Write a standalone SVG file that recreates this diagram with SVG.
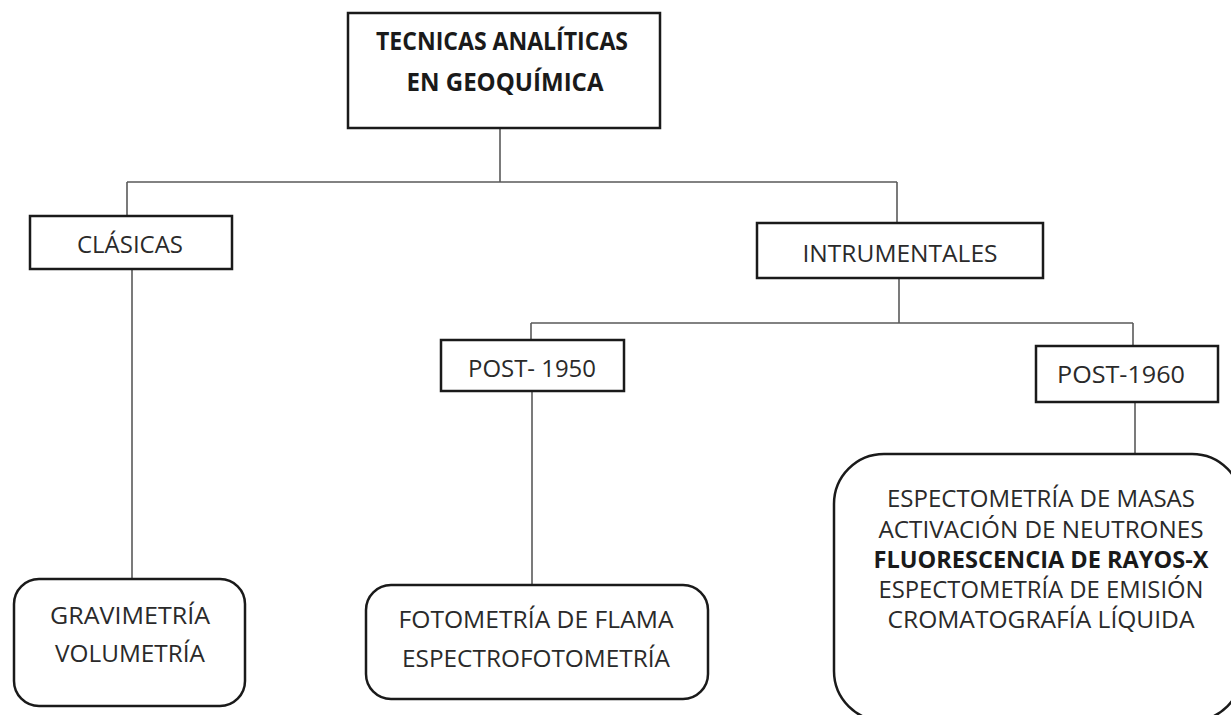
<svg xmlns="http://www.w3.org/2000/svg" width="1231" height="715" viewBox="0 0 1231 715">
<style>
.box{fill:#fff;stroke:#1a1a1a;stroke-width:2.5}
.conn{fill:none;stroke:#5a5a5a;stroke-width:1.6}
text{font-family:"Open Sans","Liberation Sans",sans-serif;font-size:23px;fill:#2a2a2a;text-anchor:middle}
.b{font-weight:bold;fill:#1a1a1a}
.t{font-size:25px}
</style>
<rect width="1231" height="715" fill="#fff"/>
<g id="connectors">
<path class="conn" d="M500,128 V182 M127,182 H897 M127,182 V216 M897,182 V223"/>
<path class="conn" d="M132,269 V579"/>
<path class="conn" d="M899,278 V323 M531,323 H1133 M531,323 V340 M1133,323 V346"/>
<path class="conn" d="M532,391 V585"/>
<path class="conn" d="M1135,402 V454"/>
</g>
<g id="n-root">
<rect class="box" x="348" y="13" width="312" height="115"/>
<text class="b t" x="502" y="50" textLength="252" lengthAdjust="spacingAndGlyphs">TECNICAS ANALÍTICAS</text>
<text class="b t" x="505" y="91" textLength="197" lengthAdjust="spacingAndGlyphs">EN GEOQUÍMICA</text>
</g>
<g id="n-clasicas">
<rect class="box" x="30" y="216" width="202" height="53"/>
<text x="130" y="253" textLength="106" lengthAdjust="spacingAndGlyphs">CLÁSICAS</text>
</g>
<g id="n-instrumentales">
<rect class="box" x="757" y="223" width="286" height="55"/>
<text x="900" y="262" textLength="195" lengthAdjust="spacingAndGlyphs">INTRUMENTALES</text>
</g>
<g id="n-post1950">
<rect class="box" x="441" y="340" width="183" height="51"/>
<text x="532" y="377" textLength="128" lengthAdjust="spacingAndGlyphs">POST- 1950</text>
</g>
<g id="n-post1960">
<rect class="box" x="1036" y="346" width="182" height="56"/>
<text x="1121" y="383" textLength="128" lengthAdjust="spacingAndGlyphs">POST-1960</text>
</g>
<g id="n-gravimetria">
<rect class="box" x="14" y="579" width="231" height="127" rx="25"/>
<text x="130" y="624" textLength="160" lengthAdjust="spacingAndGlyphs">GRAVIMETRÍA</text>
<text x="130" y="662" textLength="150" lengthAdjust="spacingAndGlyphs">VOLUMETRÍA</text>
</g>
<g id="n-fotometria">
<rect class="box" x="366" y="585" width="342" height="114" rx="25"/>
<text x="536" y="628" textLength="275" lengthAdjust="spacingAndGlyphs">FOTOMETRÍA DE FLAMA</text>
<text x="536" y="667" textLength="268" lengthAdjust="spacingAndGlyphs">ESPECTROFOTOMETRÍA</text>
</g>
<g id="n-post1960-list">
<rect class="box" x="834" y="454" width="408" height="267" rx="50"/>
<text x="1041" y="507" textLength="308" lengthAdjust="spacingAndGlyphs">ESPECTOMETRÍA DE MASAS</text>
<text x="1041" y="538" textLength="325" lengthAdjust="spacingAndGlyphs">ACTIVACIÓN DE NEUTRONES</text>
<text class="b" x="1041" y="568" textLength="335" lengthAdjust="spacingAndGlyphs">FLUORESCENCIA DE RAYOS-X</text>
<text x="1041" y="598" textLength="325" lengthAdjust="spacingAndGlyphs">ESPECTOMETRÍA DE EMISIÓN</text>
<text x="1041" y="628" textLength="307" lengthAdjust="spacingAndGlyphs">CROMATOGRAFÍA LÍQUIDA</text>
</g>
</svg>
